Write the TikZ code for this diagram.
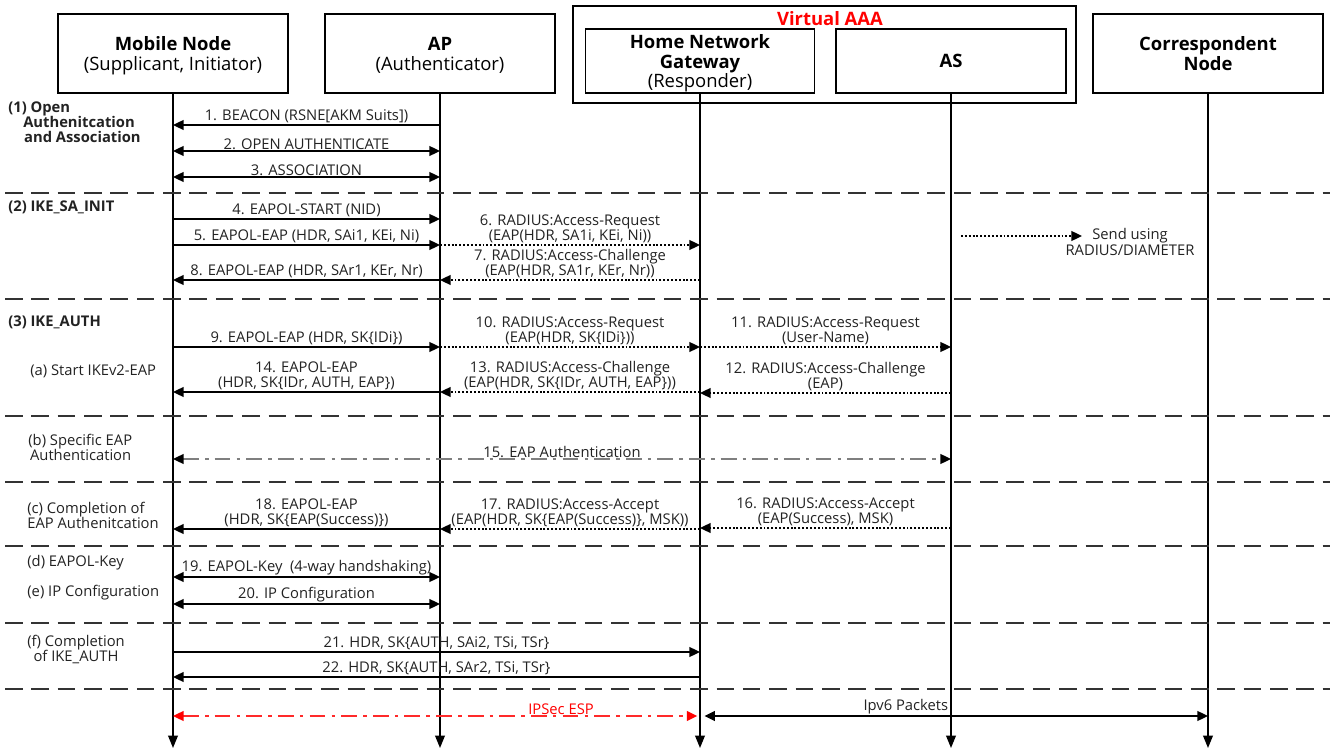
\documentclass[tikz,border=0pt]{standalone}
\usepackage{fontspec}
\setmainfont{Open Sans}
\usetikzlibrary{arrows.meta}
\newcommand\hdrfnt{\fontsize{10.5}{11.3}\selectfont}
\newcommand\msgfnt{\fontsize{8.4}{9}\selectfont}
\newcommand\sidefnt{\fontsize{8.4}{8.6}\selectfont}
\definecolor{txt}{HTML}{222222}
\definecolor{sepc}{HTML}{333333}
\definecolor{vred}{HTML}{FF0000}
\definecolor{espred}{HTML}{FF2A2A}
\definecolor{eapgray}{HTML}{7F7F7F}
\tikzset{
  box/.style={draw, line width=1pt, align=center, font=\hdrfnt, inner sep=0pt, minimum width=4.6cm},
  life/.style={line width=0.8pt, -{Triangle[length=7pt,width=5.5pt]}},
  tipr/.style={-{Triangle[length=6pt,width=5.5pt]}},
  msg/.style={line width=1.1pt, color=black, tipr},
  bimsg/.style={line width=1.1pt, color=black, {Triangle[length=6pt,width=5.5pt]}-{Triangle[length=6pt,width=5.5pt]}},
  rad/.style={line width=1.1pt, color=black, dash pattern=on 1.1pt off 1.1pt, tipr},
  sepline/.style={line width=1.1pt, color=sepc, dash pattern=on 10pt off 5pt},
  lbl/.style={font=\msgfnt, text=txt, align=center, inner sep=0pt, above=0.4pt},
  side/.style={font=\sidefnt, text=txt, align=left, inner sep=0pt, anchor=west},
}
\begin{document}
\begin{tikzpicture}[x=0.02cm,y=-0.02cm]
\useasboundingbox (0,0) rectangle (1330,753);

% header boxes
\node[box, minimum height=1.58cm, text depth=-1pt] (mn) at (173,53.5) {\textbf{Mobile Node}\\(Supplicant, Initiator)};
\node[box, minimum height=1.58cm, text depth=-1pt] (ap) at (440,53.5) {\textbf{AP}\\(Authenticator)};
\node[box, minimum width=10.06cm, minimum height=1.94cm] (aaa) at (824.5,54.5) {};
\node[font=\hdrfnt\bfseries, text=vred, inner sep=0pt] (aaat) at (830,19) {Virtual AAA};
\node[box, minimum width=4.58cm, minimum height=1.28cm, text depth=-1.5pt] (hng) at (700,61) {\textbf{Home Network}\\\textbf{Gateway}\\(Responder)};
\node[box, minimum height=1.28cm] (as) at (951,61) {\textbf{AS}};
\node[box, minimum height=1.58cm] (cn) at (1208,53.5) {\textbf{Correspondent}\\\textbf{Node}};

% lifeline ends
\coordinate (mnE) at (173,748);
\coordinate (apE) at (440,748);
\coordinate (hngE) at (700,748);
\coordinate (asE) at (951,748);
\coordinate (cnE) at (1208,748);
\draw[life] (mn) -- (mnE);
\draw[life] (ap) -- (apE);
\draw[life] (hng) -- (hngE);
\draw[life] (as) -- (asE);
\draw[life] (cn) -- (cnE);

% separators
\foreach \yy in {193,299,416,482,546,623,689}{
  \draw[sepline] (5,\yy) -- (1330,\yy);
}

% side labels
\node[side, font=\sidefnt\bfseries] (s1) at (8,122) {(1) Open\\\hspace*{8.5pt}Authenitcation\\\hspace*{9pt}and Association};
\node[side, font=\sidefnt\bfseries] (s2) at (8,207) {(2) IKE\_SA\_INIT};
\node[side, font=\sidefnt\bfseries] (s3) at (8,322) {(3) IKE\_AUTH};
\node[side] (sa) at (30,371) {(a) Start IKEv2-EAP};
\node[side] (sb) at (28,447) {(b) Specific EAP\\\hspace*{1pt}Authentication};
\node[side] (sc) at (27,515.5) {(c) Completion of\\EAP Authenitcation};
\node[side] (sd) at (27,563) {(d) EAPOL-Key};
\node[side] (se) at (27,593) {(e) IP Configuration};
\node[side, align=center, anchor=center] (sf) at (76,649.5) {(f) Completion\\of IKE\_AUTH};

% (1)
\draw[msg] (ap |- 0,125) -- node[lbl]{1. BEACON (RSNE[AKM Suits])} (mn |- 0,125);
\draw[bimsg] (mn |- 0,151) -- node[lbl]{2. OPEN AUTHENTICATE} (ap |- 0,151);
\draw[bimsg] (mn |- 0,177) -- node[lbl]{3. ASSOCIATION} (ap |- 0,177);

% (2)
\draw[msg] (mn |- 0,219) -- node[lbl]{4. EAPOL-START (NID)} (ap |- 0,219);
\draw[msg] (mn |- 0,245) -- node[lbl]{5. EAPOL-EAP (HDR, SAi1, KEi, Ni)} (ap |- 0,245);
\draw[rad] (ap |- 0,245) -- node[lbl]{6. RADIUS:Access-Request\\(EAP(HDR, SA1i, KEi, Ni))} (hng |- 0,245);
\draw[rad] (hng |- 0,280) -- node[lbl]{7. RADIUS:Access-Challenge\\(EAP(HDR, SA1r, KEr, Nr))} (ap |- 0,280);
\draw[msg] (ap |- 0,280) -- node[lbl]{8. EAPOL-EAP (HDR, SAr1, KEr, Nr)} (mn |- 0,280);

% legend
\coordinate (lg1) at (961,236);
\coordinate (lg2) at (1082,236);
\draw[rad] (lg1) -- (lg2);
\node[font=\msgfnt, text=txt, align=center, inner sep=0pt] (lgt) at (1130,242) {Send using\\RADIUS/DIAMETER};

% (3)
\draw[msg] (mn |- 0,347) -- node[lbl]{9. EAPOL-EAP (HDR, SK\{IDi\})} (ap |- 0,347);
\draw[rad] (ap |- 0,347) -- node[lbl]{10. RADIUS:Access-Request\\(EAP(HDR, SK\{IDi\}))} (hng |- 0,347);
\draw[rad] (hng |- 0,347) -- node[lbl]{11. RADIUS:Access-Request\\(User-Name)} (as |- 0,347);
\draw[rad] (as |- 0,393) -- node[lbl]{12. RADIUS:Access-Challenge\\(EAP)} (hng |- 0,393);
\draw[rad] (hng |- 0,392) -- node[lbl]{13. RADIUS:Access-Challenge\\(EAP(HDR, SK\{IDr, AUTH, EAP\}))} (ap |- 0,392);
\draw[msg] (ap |- 0,392) -- node[lbl]{14. EAPOL-EAP\\(HDR, SK\{IDr, AUTH, EAP\})} (mn |- 0,392);

% (b)
\draw[line width=1.1pt, color=eapgray, dash pattern=on 9pt off 3.5pt on 2pt off 3.5pt,
      {Triangle[length=6pt,width=5.5pt,color=black]}-{Triangle[length=6pt,width=5.5pt,color=black]}]
  (mn |- 0,459) -- node[lbl]{15. EAP Authentication} (as |- 0,459);

% (c)
\draw[rad] (as |- 0,528) -- node[lbl]{16. RADIUS:Access-Accept\\(EAP(Success), MSK)} (hng |- 0,528);
\draw[rad] (hng |- 0,529) -- node[lbl]{17. RADIUS:Access-Accept\\(EAP(HDR, SK\{EAP(Success)\}, MSK))} (ap |- 0,529);
\draw[msg] (ap |- 0,529) -- node[lbl]{18. EAPOL-EAP\\(HDR, SK\{EAP(Success)\})} (mn |- 0,529);

% (d) (e)
\draw[bimsg] (mn |- 0,577) -- node[lbl]{19. EAPOL-Key\ \ (4-way handshaking)} (ap |- 0,577);
\draw[bimsg] (mn |- 0,604) -- node[lbl]{20. IP Configuration} (ap |- 0,604);

% (f)
\draw[msg] (mn |- 0,652) -- node[lbl]{21. HDR, SK\{AUTH, SAi2, TSi, TSr\}} (hng |- 0,652);
\draw[msg] (hng |- 0,677) -- node[lbl]{22. HDR, SK\{AUTH, SAr2, TSi, TSr\}} (mn |- 0,677);

% data
\draw[line width=1.1pt, color=espred, dash pattern=on 9pt off 3.5pt on 2pt off 3.5pt,
      {Triangle[length=6pt,width=5.5pt,color=vred]}-{Triangle[length=6pt,width=5.5pt,color=vred]}]
  (mn |- 0,716) -- node[lbl, pos=0.74, text=vred]{IPSec ESP} ([xshift=-1.5pt]hng |- 0,716);
\draw[bimsg] ([xshift=2.5pt]hng |- 0,716) -- node[lbl, pos=0.4]{Ipv6 Packets} (cn |- 0,716);

\end{tikzpicture}
\end{document}
